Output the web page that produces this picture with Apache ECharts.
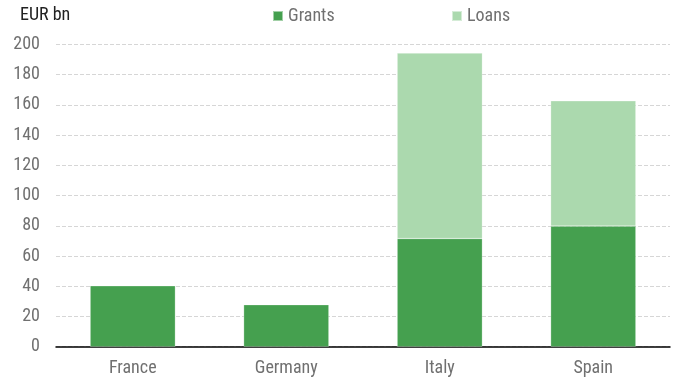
<!DOCTYPE html>
<html>
<head>
<meta charset="utf-8">
<script src="https://cdn.jsdelivr.net/npm/echarts@6/dist/echarts.min.js"></script>
<style>
  html, body { margin: 0; padding: 0; background: #ffffff; }
  #chart { width: 678px; height: 378px; }
</style>
</head>
<body>
<div id="chart"></div>
<script>
// Recovery and Resilience Facility allocations, EUR bn
const countries = ['France', 'Germany', 'Italy', 'Spain'];
const grants = [40.3, 27.8, 71.6, 79.8];
const loans = [null, null, 122.7, 82.9];
const yTicks = { min: 0, max: 200, interval: 20 };

const FONT = "'Roboto Condensed', 'Liberation Sans Narrow', 'Roboto', sans-serif";
const FONT_SIZE = 18;
const GRANT_COLOR = '#45a04f';
const LOAN_COLOR = '#abd9ae';
const TEXT_GREY = '#707070';

const chart = echarts.init(document.getElementById('chart'), null, { renderer: 'canvas' });

const legendText = { fontFamily: FONT, fontSize: FONT_SIZE, color: TEXT_GREY };

chart.setOption({
  animation: false,
  textStyle: { fontFamily: FONT },
  title: {
    text: 'EUR bn',
    left: 20,
    top: 6,
    padding: 0,
    textStyle: { fontFamily: FONT, fontSize: FONT_SIZE, fontWeight: 'normal', color: '#222222' }
  },
  legend: [
    {
      data: ['Grants'],
      left: 272,
      top: 7,
      padding: 0,
      icon: 'rect',
      itemWidth: 10,
      itemHeight: 10,
      textStyle: legendText
    },
    {
      data: ['Loans'],
      left: 451,
      top: 7,
      padding: 0,
      icon: 'rect',
      itemWidth: 10,
      itemHeight: 10,
      textStyle: legendText
    }
  ],
  grid: { left: 56, right: 8, top: 44.5, bottom: 31.3, containLabel: false },
  xAxis: {
    type: 'category',
    data: countries,
    axisLine: { show: true, lineStyle: { color: '#000000', width: 1.5 } },
    axisTick: { show: false },
    axisLabel: { fontFamily: FONT, fontSize: FONT_SIZE, color: TEXT_GREY, margin: 13 }
  },
  yAxis: {
    type: 'value',
    min: yTicks.min,
    max: yTicks.max,
    interval: yTicks.interval,
    axisLine: { show: false },
    axisTick: { show: false },
    axisLabel: { fontFamily: FONT, fontSize: FONT_SIZE, color: TEXT_GREY, margin: 16 },
    splitLine: { show: true, lineStyle: { color: '#d6d6d6', type: [4, 2], width: 1 } }
  },
  series: [
    {
      name: 'Grants',
      type: 'bar',
      stack: 'total',
      data: grants,
      barWidth: '55.5%',
      itemStyle: { color: GRANT_COLOR, borderColor: 'rgba(255,255,255,0.5)', borderWidth: 0.5 }
    },
    {
      name: 'Loans',
      type: 'bar',
      stack: 'total',
      data: loans,
      barWidth: '55.5%',
      itemStyle: { color: LOAN_COLOR, borderColor: 'rgba(255,255,255,0.5)', borderWidth: 0.5 }
    }
  ]
});
</script>
</body>
</html>
